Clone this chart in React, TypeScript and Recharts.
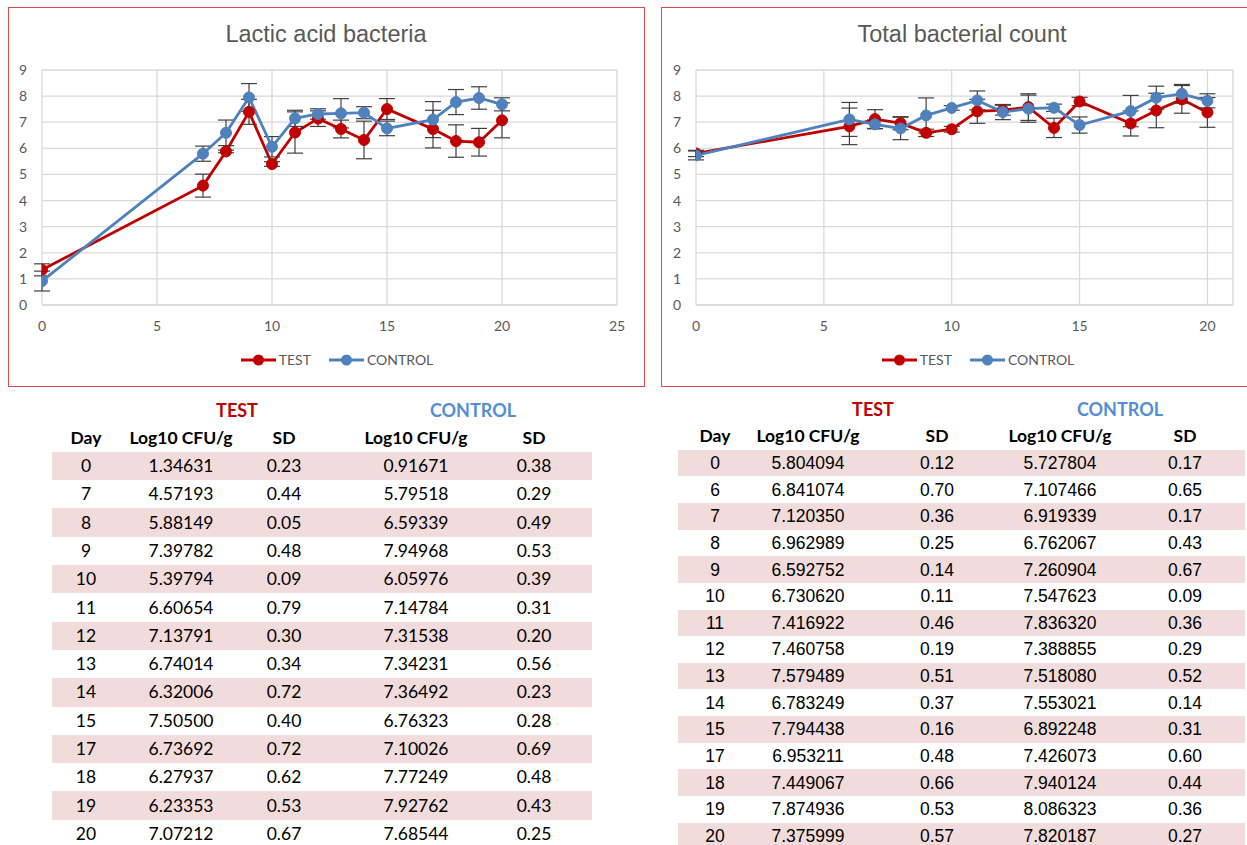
import React from "react";
import { CartesianGrid, ErrorBar, Legend, Line, LineChart, XAxis, YAxis } from "recharts";

const lacticDays = [0, 7, 8, 9, 10, 11, 12, 13, 14, 15, 17, 18, 19, 20];
const lacticTest = [1.34631, 4.57193, 5.88149, 7.39782, 5.39794, 6.60654, 7.13791, 6.74014, 6.32006, 7.505, 6.73692, 6.27937, 6.23353, 7.07212];
const lacticTestSd = [0.23, 0.44, 0.05, 0.48, 0.09, 0.79, 0.3, 0.34, 0.72, 0.4, 0.72, 0.62, 0.53, 0.67];
const lacticControl = [0.91671, 5.79518, 6.59339, 7.94968, 6.05976, 7.14784, 7.31538, 7.34231, 7.36492, 6.76323, 7.10026, 7.77249, 7.92762, 7.68544];
const lacticControlSd = [0.38, 0.29, 0.49, 0.53, 0.39, 0.31, 0.2, 0.56, 0.23, 0.28, 0.69, 0.48, 0.43, 0.25];

const totalDays = [0, 6, 7, 8, 9, 10, 11, 12, 13, 14, 15, 17, 18, 19, 20];
const totalTest = [5.804094, 6.841074, 7.12035, 6.962989, 6.592752, 6.73062, 7.416922, 7.460758, 7.579489, 6.783249, 7.794438, 6.953211, 7.449067, 7.874936, 7.375999];
const totalTestSd = [0.12, 0.7, 0.36, 0.25, 0.14, 0.11, 0.46, 0.19, 0.51, 0.37, 0.16, 0.48, 0.66, 0.53, 0.57];
const totalControl = [5.727804, 7.107466, 6.919339, 6.762067, 7.260904, 7.547623, 7.83632, 7.388855, 7.51808, 7.553021, 6.892248, 7.426073, 7.940124, 8.086323, 7.820187];
const totalControlSd = [0.17, 0.65, 0.17, 0.43, 0.67, 0.09, 0.36, 0.29, 0.52, 0.14, 0.31, 0.6, 0.44, 0.36, 0.27];

const yTicks = [0, 1, 2, 3, 4, 5, 6, 7, 8, 9];
const lacticXTicks = [0, 5, 10, 15, 20, 25];
const totalXTicks = [0, 5, 10, 15, 20];
const tableHeaders = ["Day", "Log10 CFU/g", "SD", "Log10 CFU/g", "SD"];
const seriesOrder = ["test", "control"];

const RED = "#C00000";
const BLUE = "#4F81BD";
const GRID = "#D9D9D9";
const LABEL = "#595959";
const SHADE = "#F2DCDB";

type Row = { day: number; test: number; testSd: number; control: number; controlSd: number };

const buildRows = (days: number[], t: number[], tSd: number[], c: number[], cSd: number[]): Row[] =>
  days.map((day, i) => ({ day, test: t[i], testSd: tSd[i], control: c[i], controlSd: cSd[i] }));

const lacticRows = buildRows(lacticDays, lacticTest, lacticTestSd, lacticControl, lacticControlSd);
const totalRows = buildRows(totalDays, totalTest, totalTestSd, totalControl, totalControlSd);

function LegendContent({ payload }: any) {
  const items = [...(payload || [])].sort(
    (a: any, b: any) => seriesOrder.indexOf(a.dataKey) - seriesOrder.indexOf(b.dataKey)
  );
  return (
    <div style={{ display: "flex", justifyContent: "center", alignItems: "center", fontFamily: "Lato", fontSize: 14, color: LABEL }}>
      {items.map((p: any) => (
        <div key={p.value} style={{ display: "flex", alignItems: "center", marginRight: 18 }}>
          <svg width={35} height={14}>
            <line x1={0} y1={7} x2={35} y2={7} stroke={p.color} strokeWidth={3} />
            <circle cx={17.5} cy={7} r={5.5} fill={p.color} />
          </svg>
          <span style={{ marginLeft: 3 }}>{p.value}</span>
        </div>
      ))}
    </div>
  );
}

function ChartPanel({
  title,
  rows,
  left,
  width,
  marginLeft,
  marginRight,
  xMax,
  xTicks,
  legendLeft,
  legendWidth
}: {
  title: string;
  rows: Row[];
  left: number;
  width: number;
  marginLeft: number;
  marginRight: number;
  xMax: number;
  xTicks: number[];
  legendLeft: number;
  legendWidth: number;
}) {
  const tick = { fill: LABEL, fontSize: 14, fontFamily: "Lato" };
  return (
    <>
      <div style={{ position: "absolute", left: left - 1, top: 7, width: width + 1, height: 378, border: "1.5px solid #DD4B4B" }} />
      <div
        style={{
          position: "absolute",
          left,
          top: 20,
          width,
          textAlign: "center",
          fontFamily: "Liberation Sans",
          fontSize: 23.5,
          lineHeight: "28px",
          color: LABEL
        }}
      >
        {title}
      </div>
      <div style={{ position: "absolute", left, top: 8 }}>
        <LineChart width={width} height={377} data={rows} margin={{ top: 62, left: marginLeft, right: marginRight, bottom: 50 }}>
          <CartesianGrid stroke={GRID} strokeWidth={1.3} />
          <XAxis
            dataKey="day"
            type="number"
            domain={[0, xMax]}
            ticks={xTicks}
            allowDataOverflow
            height={30}
            tickLine={false}
            axisLine={{ stroke: GRID, strokeWidth: 1.3 }}
            tick={tick}
            tickMargin={10}
          />
          <YAxis
            type="number"
            domain={[0, 9]}
            ticks={yTicks}
            width={25}
            tickLine={false}
            axisLine={false}
            tick={tick}
            tickMargin={9}
          />
          <Legend
            verticalAlign="middle"
            align="center"
            layout="horizontal"
            wrapperStyle={{ top: 343, left: legendLeft, width: legendWidth }}
            content={<LegendContent />}
          />
          <Line
            type="linear"
            dataKey="test"
            name="TEST"
            stroke={RED}
            strokeWidth={2.8}
            dot={{ r: 5.5, fill: RED, stroke: RED, strokeWidth: 1 }}
            isAnimationActive={false}
          >
            <ErrorBar dataKey="testSd" width={8} stroke="#404040" strokeWidth={1.2} isAnimationActive={false} />
          </Line>
          <Line
            type="linear"
            dataKey="control"
            name="CONTROL"
            stroke={BLUE}
            strokeWidth={2.8}
            dot={{ r: 5.5, fill: BLUE, stroke: BLUE, strokeWidth: 1 }}
            isAnimationActive={false}
          >
            <ErrorBar dataKey="controlSd" width={8} stroke="#404040" strokeWidth={1.2} isAnimationActive={false} />
          </Line>
        </LineChart>
      </div>
    </>
  );
}

function DataTable({
  rows,
  left,
  width,
  groupY,
  headY,
  firstY,
  rowH,
  cols,
  groupCols,
  digits,
  bodyFont,
  bodySize
}: {
  rows: Row[];
  left: number;
  width: number;
  groupY: number;
  headY: number;
  firstY: number;
  rowH: number;
  cols: number[];
  groupCols: number[];
  digits: number;
  bodyFont: string;
  bodySize: number;
}) {
  const cell = (x: number, y: number, text: string, style: React.CSSProperties, key: string) => (
    <div
      key={key}
      style={{
        position: "absolute",
        left: x - 80,
        top: y - 12,
        width: 160,
        height: 24,
        lineHeight: "24px",
        textAlign: "center",
        whiteSpace: "nowrap",
        ...style
      }}
    >
      {text}
    </div>
  );
  const headStyle: React.CSSProperties = { fontFamily: "Lato", fontWeight: 700, fontSize: 17.5, color: "#000" };
  const bodyStyle: React.CSSProperties = { fontFamily: bodyFont, fontSize: bodySize, color: "#000" };
  return (
    <>
      {cell(groupCols[0], groupY, "TEST", { ...headStyle, color: RED, fontSize: 18 }, "gt")}
      {cell(groupCols[1], groupY, "CONTROL", { ...headStyle, color: "#558ED5", fontSize: 18 }, "gc")}
      {tableHeaders.map((h, i) => cell(cols[i], headY, h, headStyle, "h" + i))}
      {rows.map((r, i) => {
        const y = firstY + rowH * i;
        const values = [String(r.day), r.test.toFixed(digits), r.testSd.toFixed(2), r.control.toFixed(digits), r.controlSd.toFixed(2)];
        return (
          <React.Fragment key={r.day}>
            {i % 2 === 0 && (
              <div style={{ position: "absolute", left, width, top: y - rowH / 2, height: rowH, background: SHADE }} />
            )}
            {values.map((v, j) => cell(cols[j], y, v, bodyStyle, `r${i}c${j}`))}
          </React.Fragment>
        );
      })}
    </>
  );
}

export default function App() {
  return (
    <div style={{ position: "relative", width: 1247, height: 845, overflow: "hidden", background: "#fff" }}>
      <style>{`body{margin:0}`}</style>
      <ChartPanel
        title="Lactic acid bacteria"
        rows={lacticRows}
        left={9}
        width={634}
        marginLeft={8}
        marginRight={26}
        xMax={25}
        xTicks={lacticXTicks}
        legendLeft={24}
        legendWidth={626}
      />
      <ChartPanel
        title="Total bacterial count"
        rows={totalRows}
        left={662}
        width={600}
        marginLeft={9}
        marginRight={29}
        xMax={21}
        xTicks={totalXTicks}
        legendLeft={40}
        legendWidth={570}
      />
      <DataTable
        rows={lacticRows}
        left={52}
        width={540}
        groupY={410}
        headY={438}
        firstY={466}
        rowH={28.3}
        cols={[86, 181, 284, 416, 534]}
        groupCols={[237, 473]}
        digits={5}
        bodyFont="Lato"
        bodySize={17.5}
      />
      <DataTable
        rows={totalRows}
        left={678}
        width={567}
        groupY={409}
        headY={436}
        firstY={463}
        rowH={26.64}
        cols={[715, 808, 937, 1060, 1185]}
        groupCols={[873, 1120]}
        digits={6}
        bodyFont="Liberation Sans"
        bodySize={17.5}
      />
    </div>
  );
}
